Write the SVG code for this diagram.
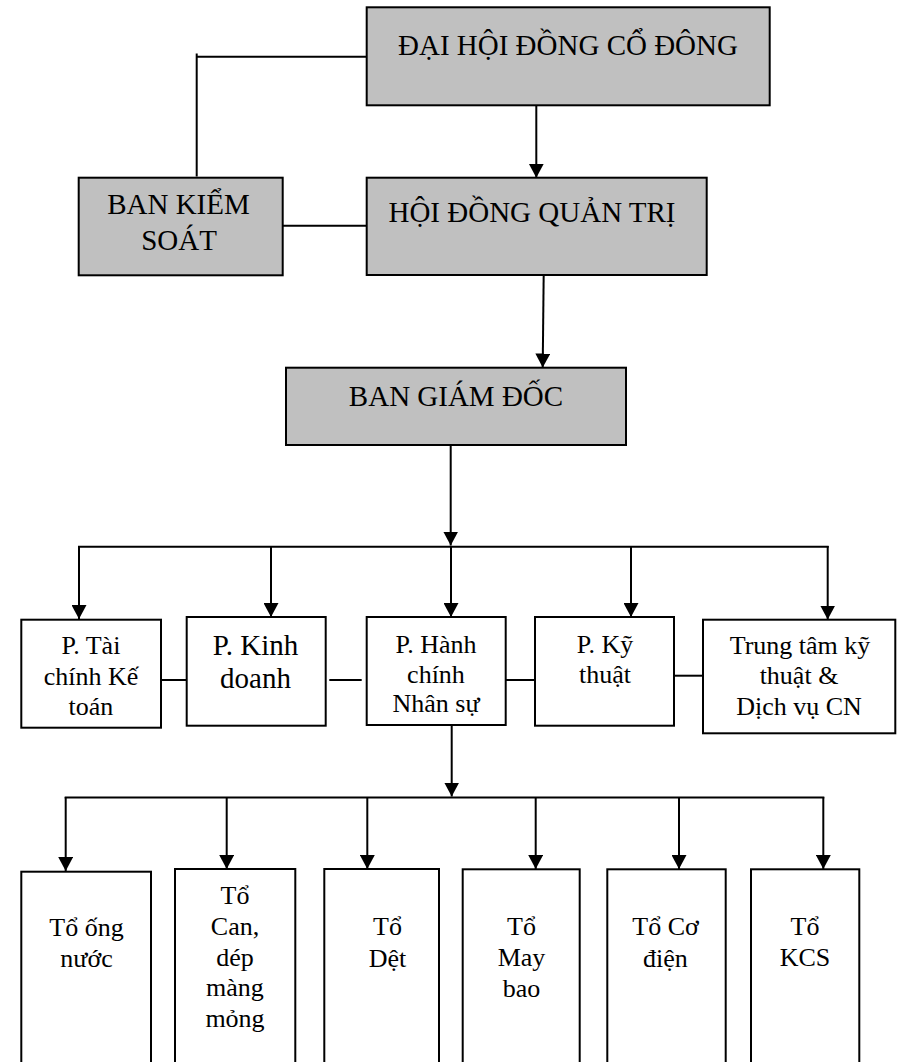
<svg xmlns="http://www.w3.org/2000/svg" width="897" height="1062" viewBox="0 0 897 1062">
<defs>
<marker id="arr" viewBox="0 0 14 15" refX="14" refY="7.5" markerWidth="14" markerHeight="15" markerUnits="userSpaceOnUse" orient="auto">
<path d="M0,0 L14,7.5 L0,15 z" fill="#000"/>
</marker>
<style>
.g{fill:#C0C0C0;stroke:#000;stroke-width:2}
.w{fill:#fff;stroke:#000;stroke-width:2}
.ln{fill:none;stroke:#000;stroke-width:2}
.a{fill:none;stroke:#000;stroke-width:2;marker-end:url(#arr)}
text{font-family:"Liberation Serif","Times New Roman",serif;fill:#000;text-anchor:middle}
.t29{font-size:29px}
.t26{font-size:26px}
</style>
</defs>
<rect width="897" height="1062" fill="#fff"/>
<g id="connectors">
<polyline class="ln" points="367,56.7 196.7,56.7"/>
<line class="ln" x1="196.7" y1="53.5" x2="196.7" y2="176.5"/>
<line class="ln" x1="282.7" y1="225.7" x2="366.7" y2="225.7"/>
<line class="a" x1="536.3" y1="106" x2="536.3" y2="177.7"/>
<line class="a" x1="543.7" y1="273" x2="542.7" y2="367.5"/>
<line class="a" x1="450.7" y1="445" x2="450.7" y2="545.5"/>
<line class="ln" x1="78" y1="546.7" x2="828.7" y2="546.7"/>
<line class="a" x1="79" y1="546" x2="79" y2="619"/>
<line class="a" x1="271" y1="546" x2="271" y2="617"/>
<line class="a" x1="451" y1="546" x2="451" y2="617"/>
<line class="a" x1="631" y1="546" x2="631" y2="617"/>
<line class="a" x1="827.7" y1="546" x2="827.7" y2="619.5"/>
<line class="ln" x1="155.7" y1="680" x2="186.7" y2="680"/>
<line class="ln" x1="329.3" y1="680" x2="361.7" y2="680"/>
<line class="ln" x1="504" y1="680" x2="536.7" y2="680"/>
<line class="ln" x1="674.3" y1="675.7" x2="705.7" y2="675.7"/>
<line class="a" x1="451.7" y1="725" x2="451.7" y2="796.5"/>
<line class="ln" x1="64.7" y1="797.5" x2="824.3" y2="797.5"/>
<line class="a" x1="65.7" y1="797" x2="65.7" y2="871"/>
<line class="a" x1="226.7" y1="797" x2="226.7" y2="869"/>
<line class="a" x1="367.3" y1="797" x2="367.3" y2="869"/>
<line class="a" x1="535.7" y1="797" x2="535.7" y2="869"/>
<line class="a" x1="679" y1="797" x2="679" y2="869"/>
<line class="a" x1="823.3" y1="797" x2="823.3" y2="869"/>
</g>
<g id="dhdcd">
<rect class="g" x="366.7" y="7.3" width="403" height="98"/>
<text class="t29" x="568" y="55">ĐẠI HỘI ĐỒNG CỔ ĐÔNG</text>
</g>
<g id="bks">
<rect class="g" x="78.7" y="177.7" width="204" height="97.6"/>
<text class="t29" x="178.5" y="214">BAN KIỂM</text>
<text class="t29" x="179" y="250">SOÁT</text>
</g>
<g id="hdqt">
<rect class="g" x="366.7" y="177.7" width="340" height="97.3"/>
<text class="t29" x="532" y="222">HỘI ĐỒNG QUẢN TRỊ</text>
</g>
<g id="bgd">
<rect class="g" x="286" y="367.7" width="340" height="77.3"/>
<text class="t29" x="456" y="406">BAN GIÁM ĐỐC</text>
</g>
<g id="p-taichinh">
<rect class="w" x="21.3" y="619.7" width="139.7" height="108"/>
<text class="t26" x="91" y="654">P. Tài</text>
<text class="t26" x="91" y="684.5">chính Kế</text>
<text class="t26" x="91" y="715">toán</text>
</g>
<g id="p-kinhdoanh">
<rect class="w" x="186.7" y="617" width="139" height="108.7"/>
<text class="t29" x="255.5" y="655">P. Kinh</text>
<text class="t29" x="255.5" y="688">doanh</text>
</g>
<g id="p-hanhchinh">
<rect class="w" x="366.7" y="617" width="139" height="108"/>
<text class="t26" x="436" y="653">P. Hành</text>
<text class="t26" x="436" y="682.5">chính</text>
<text class="t26" x="436" y="712">Nhân sự</text>
</g>
<g id="p-kythuat">
<rect class="w" x="535" y="617" width="139" height="108.7"/>
<text class="t26" x="605" y="653">P. Kỹ</text>
<text class="t26" x="605" y="683">thuật</text>
</g>
<g id="trungtam">
<rect class="w" x="703" y="619.7" width="192.3" height="113.6"/>
<text class="t26" x="800" y="654">Trung tâm kỹ</text>
<text class="t26" x="799" y="683.5">thuật &amp;</text>
<text class="t26" x="799" y="715">Dịch vụ CN</text>
</g>
<g id="to-ongnuoc">
<rect class="w" x="21.3" y="871.7" width="129.7" height="200"/>
<text class="t26" x="86.5" y="936">Tổ ống</text>
<text class="t26" x="86.5" y="967">nước</text>
</g>
<g id="to-can">
<rect class="w" x="175" y="869" width="120.3" height="200"/>
<text class="t26" x="235" y="904">Tổ</text>
<text class="t26" x="235" y="935">Can,</text>
<text class="t26" x="235" y="965.5">dép</text>
<text class="t26" x="235" y="996">màng</text>
<text class="t26" x="235" y="1026.5">mỏng</text>
</g>
<g id="to-det">
<rect class="w" x="324.3" y="869" width="114.7" height="200"/>
<text class="t26" x="387.5" y="935">Tổ</text>
<text class="t26" x="387.5" y="966.5">Dệt</text>
</g>
<g id="to-maybao">
<rect class="w" x="462.7" y="869.3" width="117" height="200"/>
<text class="t26" x="521.5" y="935">Tổ</text>
<text class="t26" x="521.5" y="965.5">May</text>
<text class="t26" x="521.5" y="996.5">bao</text>
</g>
<g id="to-codien">
<rect class="w" x="607.3" y="869.3" width="118.4" height="200"/>
<text class="t26" x="665.5" y="935">Tổ Cơ</text>
<text class="t26" x="665.5" y="966.5">điện</text>
</g>
<g id="to-kcs">
<rect class="w" x="751" y="869.3" width="108.3" height="200"/>
<text class="t26" x="805" y="935">Tổ</text>
<text class="t26" x="805" y="966">KCS</text>
</g>
</svg>
